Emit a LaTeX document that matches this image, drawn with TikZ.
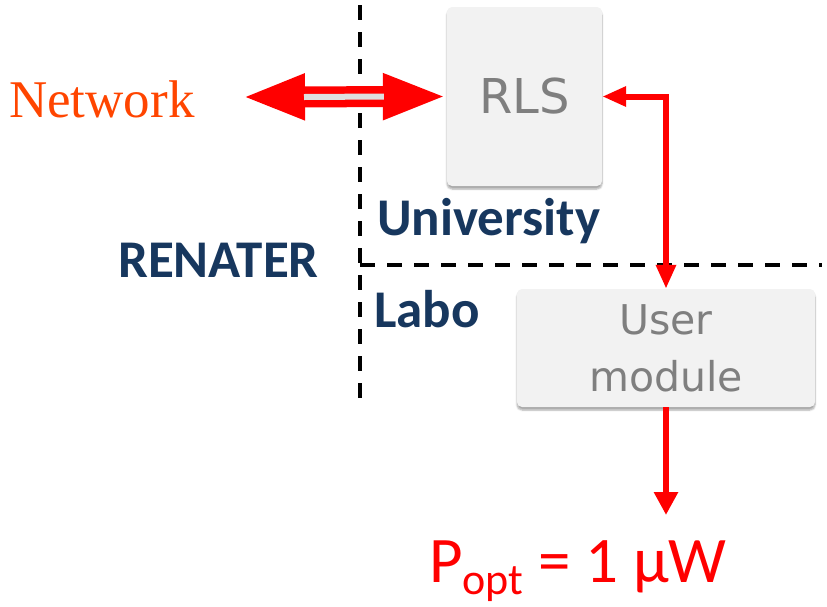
\documentclass[tikz,border=0pt]{standalone}
\usepackage{fontspec}
\newfontfamily\carl{Carlito}
\newfontfamily\dejavu{DejaVu Sans}
\newfontfamily\libserif{Liberation Serif}
\usetikzlibrary{arrows.meta,shadows.blur}
\definecolor{boxfill}{RGB}{242,242,242}
\definecolor{boxtext}{RGB}{127,127,127}
\definecolor{navy}{RGB}{23,55,94}
\definecolor{netorange}{RGB}{255,69,0}
\tikzset{
  tipsmall/.tip={Triangle[length=24pt,width=19pt]},
  tipbig/.tip={Triangle[length=23pt,width=23pt]},
  tiplinkL/.tip={Triangle[length=63pt,width=42pt]},
  tiplinkR/.tip={Triangle[length=64pt,width=42pt]}
}
\begin{document}
\begin{tikzpicture}[x=1pt,y=-1pt,
  boxnode/.style={fill=boxfill, rounded corners=5pt, inner sep=0pt,
    text=boxtext, font=\dejavu, align=center,
    blur shadow={shadow xshift=0pt, shadow yshift=-3pt, shadow blur steps=6, shadow opacity=35}},
  zone/.style={font=\carl\bfseries\fontsize{53pt}{53pt}\selectfont, text=navy, anchor=base west, inner sep=0pt},
  border/.style={black, line width=3.5pt, dash pattern=on 15pt off 12pt},
  redlink/.style={red, line width=6pt}
]
\useasboundingbox (0,0) rectangle (827,606);

% zone boundaries
\coordinate (vtop) at (360,5);
\coordinate (vbot) at (360,405);
\coordinate (hleft) at (360,265);
\coordinate (hright) at (822,265);
\draw[border] (vtop) -- (vbot);
\draw[border] (hleft) -- (hright);

% equipment boxes
\node[boxnode, minimum width=155pt, minimum height=179pt,
      font=\dejavu\fontsize{48pt}{48pt}\selectfont] (rls) at (524.5,96.5) {RLS};
\node[boxnode, minimum width=298pt, minimum height=118pt,
      font=\dejavu\fontsize{41pt}{57pt}\selectfont] (um) at (666,348) {User\\module};

% zone labels
\node[font=\libserif\fontsize{53pt}{53pt}\selectfont, text=netorange, anchor=base west, inner sep=0pt] (net) at (9,117) {Network};
\node[zone] (renater) at (118,277) {RENATER};
\node[zone] (univ) at (377,235) {University};
\node[zone] (labo) at (374,327) {Labo};

% network link (double red arrow)
\coordinate (netend) at (242,97);
\draw[red, line width=21pt, {tiplinkL}-{tiplinkR}] (netend) -- (rls.west);
\draw[gray!25, line width=6pt] ([xshift=62pt]netend) -- ([xshift=-63pt]rls.west);

% RLS <-> user module
\draw[redlink, {tipsmall}-{tipsmall}] (rls.east) -| (um.north);

% optical output
\coordinate (pend) at (666,515);
\draw[redlink, -{tipbig}] (um.south) -- (pend);
\node[anchor=base west, inner sep=0pt, text=red, font=\carl\fontsize{65pt}{65pt}\selectfont] (popt) at (429,582)
  {P\raisebox{-12pt}{\fontsize{44pt}{44pt}\selectfont opt} = 1 µW};
\end{tikzpicture}
\end{document}
